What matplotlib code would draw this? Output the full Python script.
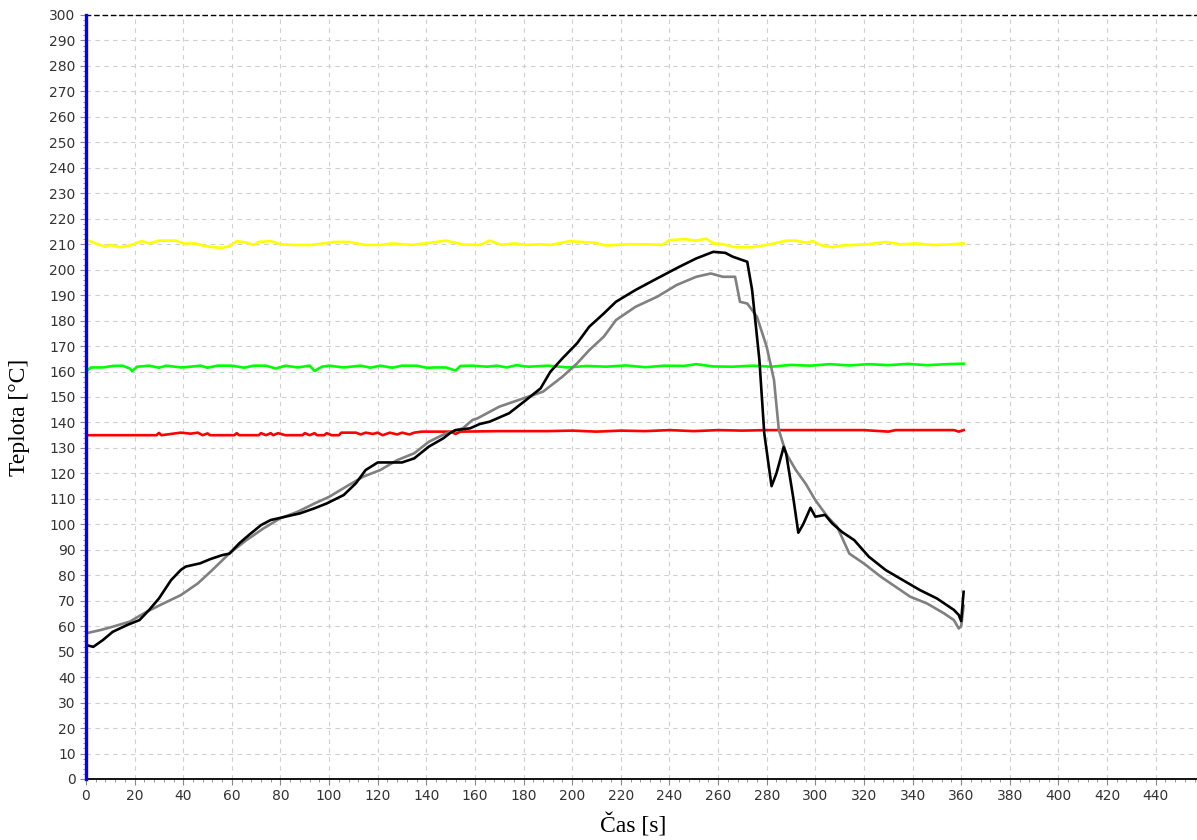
import matplotlib.pyplot as plt
from matplotlib.ticker import MultipleLocator

# black probe
black_t = [0, 3, 7, 11, 17, 22, 26, 30, 35, 39, 41, 47, 51, 56, 59, 63, 67, 72, 76, 82, 88,
           94, 99, 106, 111, 115, 120, 125, 130, 135, 141, 147, 150, 152, 158, 162, 166, 174,
           181, 187, 191, 196, 202, 207, 213, 218, 226, 235, 244, 251, 258, 263, 266, 272,
           274, 277, 279, 282, 284, 287, 288, 291, 293, 295, 298, 300, 304, 307, 311, 316,
           322, 329, 336, 343, 350, 357, 359, 360, 361]
black_T = [52.6, 51.9, 54.6, 57.8, 60.5, 62.4, 66.4, 70.9, 78.1, 82.1, 83.4, 84.7, 86.3, 87.9,
           88.5, 92.5, 95.8, 99.7, 101.7, 103.0, 104.3, 106.3, 108.2, 111.5, 116.1, 121.3,
           124.3, 124.3, 124.3, 125.9, 130.5, 133.8, 136.0, 137.0, 137.7, 139.4, 140.3, 143.6,
           148.8, 153.4, 159.9, 165.2, 171.1, 177.6, 182.8, 187.4, 192.0, 196.6, 201.1, 204.4,
           207.0, 206.6, 205.1, 203.1, 192.0, 164.5, 135.7, 115.0, 120.0, 130.4, 127.8, 110.0,
           96.7, 100.0, 106.5, 103.0, 103.7, 100.3, 97.0, 93.8, 87.3, 82.0, 78.1, 74.2, 70.9,
           66.4, 64.4, 62.0, 73.5]

# gray probe
gray_t = [0, 6, 11, 18, 25, 32, 39, 46, 52, 59, 66, 73, 80, 87, 94, 100, 107, 114, 121, 128,
          135, 141, 148, 155, 159, 161, 170, 180, 188, 196, 202, 207, 213, 218, 226, 235, 243,
          251, 257, 262, 267, 269, 272, 276, 280, 283, 285, 288, 292, 296, 300, 305, 309, 314,
          320, 327, 333, 339, 346, 353, 357, 359, 360, 361]
gray_T = [57.2, 58.5, 59.8, 61.8, 65.7, 69.0, 72.2, 76.8, 82.1, 88.6, 93.8, 98.4, 102.4, 104.9,
          108.2, 110.8, 114.8, 118.7, 121.3, 125.2, 127.9, 132.4, 135.7, 137.7, 141.0, 141.6,
          146.2, 149.5, 152.1, 158.0, 163.2, 168.4, 173.7, 180.2, 185.4, 189.4, 194.0, 197.2,
          198.5, 197.2, 197.2, 187.4, 186.7, 181.5, 169.7, 156.7, 137.0, 127.8, 121.3, 116.0,
          109.5, 103.0, 99.0, 88.5, 84.6, 79.4, 75.5, 71.6, 68.9, 65.0, 62.4, 59.1, 60.0, 68.0]

# yellow reference
yellow_t = [0, 1, 4, 8, 10, 14, 18, 23, 26, 30, 37, 40, 45, 48, 52, 56, 59, 62, 66, 69, 71, 76,
            80, 85, 93, 102, 108, 115, 121, 126, 134, 141, 148, 155, 162, 166, 171, 176, 181,
            187, 191, 199, 203, 209, 214, 224, 233, 237, 240, 246, 251, 255, 258, 262, 267, 274,
            281, 288, 292, 296, 299, 302, 307, 311, 316, 322, 329, 335, 341, 348, 355, 361]
yellow_T = [212.0, 211.4, 210.3, 209.0, 209.7, 208.8, 209.5, 211.2, 210.3, 211.4, 211.4, 210.3,
            210.3, 209.5, 208.8, 208.6, 209.2, 211.2, 210.6, 209.7, 210.9, 211.2, 210.0, 209.7,
            209.7, 210.9, 210.9, 209.7, 209.7, 210.3, 209.7, 210.5, 211.4, 209.9, 209.7, 211.4,
            209.7, 210.3, 209.7, 210.0, 209.7, 211.2, 210.9, 210.6, 209.5, 210.0, 209.9, 209.7,
            211.6, 212.0, 211.4, 212.2, 210.3, 210.0, 208.8, 208.8, 209.9, 211.4, 211.4, 210.6,
            211.2, 209.7, 208.8, 209.5, 209.7, 210.0, 210.9, 209.9, 210.3, 209.7, 209.9, 210.3]

# green reference
green_t = [0, 2, 7, 11, 15, 18, 19, 21, 26, 30, 33, 39, 43, 47, 50, 54, 60, 65, 69, 74, 78, 82,
           87, 92, 94, 97, 100, 106, 113, 117, 121, 126, 130, 136, 140, 144, 148, 152, 154, 159,
           165, 169, 173, 177, 182, 190, 198, 206, 214, 222, 230, 238, 246, 251, 258, 266, 274,
           282, 290, 298, 306, 314, 322, 330, 338, 346, 354, 361]
green_T = [160.0, 161.6, 161.6, 162.2, 162.3, 161.2, 160.2, 161.9, 162.3, 161.5, 162.3, 161.6,
           161.9, 162.3, 161.5, 162.3, 162.3, 161.5, 162.3, 162.3, 161.2, 162.3, 161.6, 162.3,
           160.2, 161.9, 162.3, 161.6, 162.3, 161.5, 162.3, 161.5, 162.3, 162.3, 161.5, 161.6,
           161.6, 160.4, 162.2, 162.3, 161.9, 162.3, 161.6, 162.5, 161.9, 162.3, 161.6, 162.2,
           161.9, 162.4, 161.7, 162.3, 162.2, 162.9, 162.0, 161.9, 162.3, 161.9, 162.6, 162.3,
           162.9, 162.4, 162.9, 162.5, 163.0, 162.5, 162.9, 163.1]

# red reference
red_t = [0, 29, 30, 31, 39, 43, 46, 48, 50, 51, 61, 62, 63, 71, 72, 74, 76, 77, 79, 82, 89, 90,
         92, 94, 95, 98, 99, 101, 104, 105, 111, 113, 115, 118, 120, 122, 125, 128, 130, 133,
         135, 138, 150, 152, 154, 170, 190, 200, 210, 220, 230, 240, 250, 260, 270, 280, 300,
         320, 330, 333, 340, 357, 359, 361]
red_T = [135.0, 135.0, 135.9, 135.0, 136.0, 135.6, 136.0, 135.0, 135.7, 135.0, 135.0, 135.8,
         135.0, 135.0, 135.8, 135.0, 135.8, 135.0, 135.8, 135.0, 135.0, 135.8, 135.0, 135.8,
         135.0, 135.0, 135.8, 135.0, 135.0, 136.0, 136.0, 135.3, 136.0, 135.5, 136.0, 135.0,
         136.0, 135.3, 136.0, 135.3, 136.0, 136.4, 136.4, 135.5, 136.4, 136.6, 136.6, 136.8,
         136.4, 136.8, 136.6, 137.0, 136.6, 137.0, 136.8, 137.0, 137.0, 137.0, 136.4, 137.0,
         137.0, 137.0, 136.4, 137.0]

fig = plt.figure(figsize=(11.97, 8.4), dpi=100)
ax = fig.add_axes([86 / 1197, 61 / 840, 1 - 86 / 1197, (779 - 15) / 840])

ax.plot(yellow_t, yellow_T, color='#ffff00', lw=1.9)
ax.plot(green_t, green_T, color='#00ff00', lw=1.9)
ax.plot(red_t, red_T, color='#ff0000', lw=1.9)
ax.plot(gray_t, gray_T, color='#808080', lw=1.9)
ax.plot(black_t, black_T, color='black', lw=1.9)

ax.set_xlim(0, 457)
ax.set_ylim(0, 300)
ax.xaxis.set_major_locator(MultipleLocator(20))
ax.xaxis.set_minor_locator(MultipleLocator(4))
ax.yaxis.set_major_locator(MultipleLocator(10))
ax.yaxis.set_minor_locator(MultipleLocator(2))

ax.grid(True, which='major', color='#d0d0d0', linestyle=(0, (4, 4)), lw=0.8)
ax.tick_params(which='major', length=4, color='#888888', labelsize=10, labelcolor='#333333')
ax.tick_params(which='minor', length=2.5, color='#888888')

ax.spines['right'].set_visible(False)
ax.spines['left'].set_color('#0000ff')
ax.spines['left'].set_linewidth(2.4)
ax.spines['left'].set_zorder(5)
ax.spines['bottom'].set_color('black')
ax.spines['bottom'].set_linewidth(1.3)
ax.spines['top'].set_color('black')
ax.spines['top'].set_linestyle((0, (3, 3)))
ax.spines['top'].set_linewidth(1.0)

fig.text(20 / 1197, 1 - 417 / 840, 'Teplota [°C]', rotation=90, ha='center', va='center',
         family='Liberation Serif', fontsize=17)
fig.text(633 / 1197, 1 - 826 / 840, 'Čas [s]', ha='center', va='center',
         family='Liberation Serif', fontsize=17)

plt.savefig('out.png', dpi=100)
